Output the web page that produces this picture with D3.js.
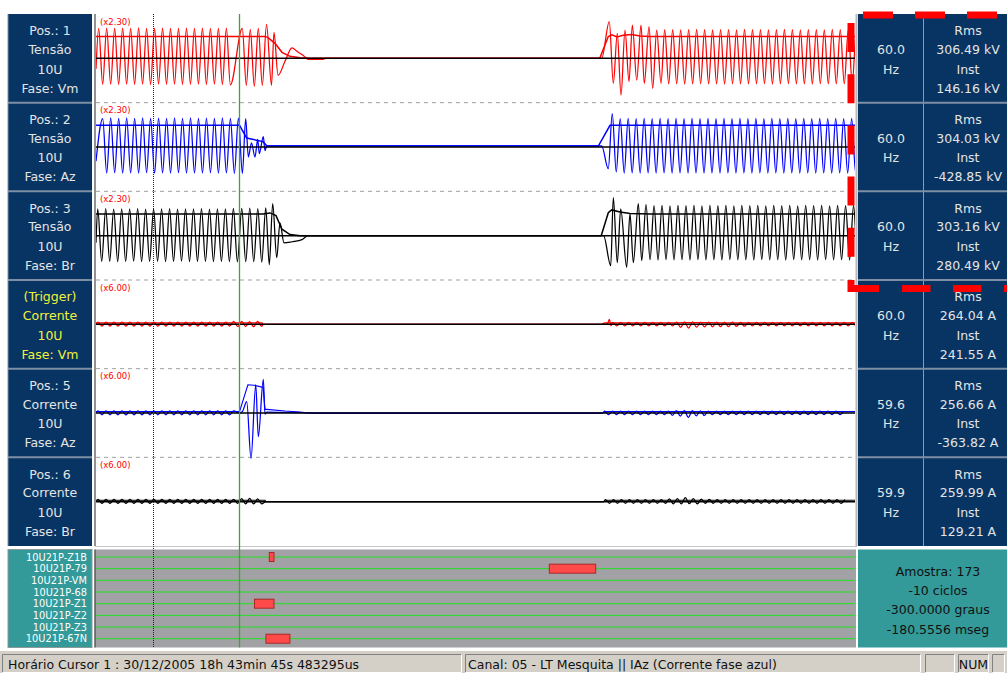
<!DOCTYPE html>
<html><head><meta charset="utf-8">
<script src="https://cdn.jsdelivr.net/npm/d3@7"></script>
<style>
html,body{margin:0;padding:0;background:#fff;}
svg{display:block;font-family:"DejaVu Sans",sans-serif;}
</style></head><body>
<svg id="c" width="1007" height="673"></svg>
<script>
// ---- channel descriptions ----
const chanPos   = ["Pos.: 1","Pos.: 2","Pos.: 3","(Trigger)","Pos.: 5","Pos.: 6"];
const chanKind  = ["Tensão","Tensão","Tensão","Corrente","Corrente","Corrente"];
const chanBay   = ["10U","10U","10U","10U","10U","10U"];
const chanPhase = ["Fase: Vm","Fase: Az","Fase: Br","Fase: Vm","Fase: Az","Fase: Br"];
const chanColor = ["#ff0000","#0000ff","#000000","#ff0000","#0000ff","#000000"];
const chanGain  = ["(x2.30)","(x2.30)","(x2.30)","(x6.00)","(x6.00)","(x6.00)"];
const chanFreq  = ["60.0","60.0","60.0","60.0","59.6","59.9"];
const chanRms   = ["306.49 kV","304.03 kV","303.16 kV","264.04 A","256.66 A","259.99 A"];
const chanInst  = ["146.16 kV","-428.85 kV","280.49 kV","241.55 A","-363.82 A","129.21 A"];

// time axis (ms) and cursors
const timeDomain = [0, 1585];
const HALF = 1000 / 120;            // half cycle at 60 Hz, ms
const cursorTimes = [119.0, 299.56];

// ---- voltage Vm (kV): alternating peaks, explicit transients ----
const vmPreStart = 5.6;
const vmPre = [420,-364,424,-362,418,-366,422,-360,420,-364,426,-362,418,-366,420,-360,424,-364,420,-362,418,-366,422,-364,420,-360,424,-366,420,-362,418,-368,424,-372];
const vmFault = [[305.5,420],[313.9,-378],[322.2,406],[330.6,-392],[338.9,420],[347.3,-378],[356.1,476],[366.5,-378],[371.7,364],[380.1,-238],[394.7,-42],[409.3,147],[419.7,98],[432.3,42],[442.7,-14],[472.0,-14],[480.3,0],[1056,0]];
const vmReclose = [[1071.9,512],[1080.3,-350],[1088.6,350],[1096.4,-514],[1104.7,396],[1113.1,-326],[1120.0,466],[1129.2,-304],[1138.1,466],[1145.0,-350],[1154.9,442],[1162.5,-420],[1170.9,396],[1179.9,-350]];
const vmPostStart = 1187.6;
const vmPost = [400,-357,402,-355,398,-360,400,-357,404,-355,400,-358,398,-357,402,-360,400,-355,398,-357,404,-358,400,-357,402,-355,398,-360,400,-357,404,-355,400,-358,398,-357,402,-360,400,-355,398,-357,404,-358,400,-357,402,-355,400,-357];
const vmRms = [[0,306.49],[352.9,306.49],[359.2,290],[373.8,210],[388.4,84],[405.1,28],[426,7],[447,0],[1052,0],[1069.8,306],[1077.5,330],[1088,300],[1100.5,322],[1118.7,334],[1136,312],[1157,306.49],[1585,306.49]];

// ---- voltage Az (kV) ----
const vaPreStart = 14.0;
const vaPre = [398,-364,406,-360,402,-366,406,-362,400,-364,408,-360,402,-366,404,-362,400,-364,406,-360,402,-366,408,-362,400,-364,404,-360,402,-366,406,-362,400,-370,404];
const vaFault = [[305.7,-371],[312.6,398],[318.1,-140],[324.7,56],[332.0,-140],[337.7,108],[341.0,-92],[349.4,144],[352.9,-49],[356.5,14],[1056,14]];
const vaReclose = [[1069.8,-304],[1078.1,468],[1086.4,-350]];
const vaPostStart = 1094.7;
const vaPost = [398,-364,400,-362,398,-364,400,-362,398,-364,400,-362,398,-364,400,-362,
                398,-364,400,-362,398,-364,400,-362,398,-364,400,-362,398,-364,400,-362,
                398,-364,400,-362,398,-364,400,-362,398,-364,400,-362,398,-364,400,-362,
                398,-364,400,-362,398,-364,400,-362,398,-364,400,-362,398,-364,400,-362];
const vaRms = [[0,304.03],[299.7,304.03],[314.7,125],[348.7,75],[357.1,14],[1049,14],[1073.4,304.03],[1585,304.03]];

// ---- voltage Br (kV) ----
const vbPreStart = 3.6;
const vbPre = [374,-360,378,-358,372,-362,376,-360,374,-356,378,-362,372,-360,376,-358,374,-362,378,-360,372,-356,376,-362,374,-360,378,-358,372,-362,376,-360,374,-364,380,-366];
const vbFault = [[304.4,380],[312.7,-364],[321.1,384],[329.4,-364],[337.8,378],[346.1,-370],[354.5,390],[361.9,-406],[369.0,448],[377.4,-308],[384.2,180],[392.6,-100],[409.3,-85],[430.2,-56],[442.7,0],[1060,0]];
const vbReclose = [[1074.9,-420],[1080.3,532],[1088.6,-378],[1095.7,374],[1108.2,-442],[1115.1,308],[1122.1,-378],[1132.5,448],[1139.6,-350],[1148.6,434]];
const vbPostStart = 1157;
const vbPost = [-336,420,-340,424,-334,418,-338,422,-336,420,-340,424,-334,418,-338,422,-336,420,-340,424,-334,418,-338,422,-336,420,-340,424,-334,418,-338,422,-336,420,-340,424,-334,418,-338,422,-336,420,-340,424,-334,418,-338,422,-336,420,-340,424,-334,418,-338];
const vbRms = [[0,303.16],[348.7,303.16],[363.4,318],[375.9,280],[388.4,90],[405.1,15],[426,0],[1055,0],[1069.8,320],[1077,360],[1094.3,330],[1115.2,310],[1157,303.16],[1585,303.16]];

// ---- current Vm (A) ----
const imPreStart = 4.2;
const imPre = [400,-320,400,-320,400,-320,400,-320,400,-320,400,-320,400,-320,400,-320,400,-320,400,-320,400,-320,400,-320,400,-320,400,-320,400,-320,400,-320,400,-320,520,-420,540,-400,500,-430,520,-380];
const imGap = [[349,0],[1056,0],[1068,60],[1071.9,900],[1075.5,-250]];
const imPostStart = 1079.2;
const imPost = [340,-300,340,-300,340,-300,340,-300,340,-300,340,-300,340,-300,340,-300,420,-560,460,-670,440,-520,400,-480,420,-450,380,-420,400,-400,380,-380,360,-340,360,-300,340,-300,340,-300,340,-300,340,-300,340,-300,340,-300,340,-300,340,-300,340,-300,340,-300,340,-300,340,-300,340,-300,340];
const imRms = [[0,264.04],[346.7,264.04],[349,0],[1056,0],[1062,264.04],[1215,264.04],[1225,340],[1285,300],[1300,264.04],[1585,264.04]];

// ---- current Az (A) ----
const iaPreStart = 4.2;
const iaPre = [400,-320,400,-320,400,-320,400,-320,400,-320,400,-320,400,-320,400,-320,400,-320,400,-320,400,-320,400,-320,400,-320,400,-320,400,-320,400,-320,400,-320,400];
const iaFault = [[299.7,0],[306,300],[314.7,2040],[323.7,-8200],[333.6,5100],[339.0,-4280],[349.4,6070],[352.9,-200],[357.1,150],[394.7,100],[430,50],[450,0],[1058,0]];
const iaPostStart = 1062;
const iaPost = [360,-300,360,-300,360,-300,360,-300,360,-300,360,-300,360,-300,360,-300,360,-420,420,-550,440,-780,420,-500,400,-450,360,-300,360,-300,360,-300,360,-300,360,-300,360,-300,360,-300,360,-300,360,-300,360,-300,360,-300,360,-300,360,-300,360,-300,360,-300,360,-300,360,-300,360];
const iaRms = [[0,256.66],[299.7,256.66],[317.2,5100],[330,5000],[340,4800],[349,4600],[352.9,650],[357.1,650],[394.7,360],[426,180],[446,0],[1058,0],[1066,256.66],[1585,256.66]];

// ---- current Br (A) ----
const ibPreStart = 4.2;
const ibPre = [400,-320,400,-320,400,-320,400,-320,400,-320,400,-320,400,-320,400,-320,400,-320,400,-320,400,-320,400,-320,400,-320,400,-320,400,-320,400,-320,400,-320,400,-320,560,-400,600,-420,520,-380];
const ibGap = [[355,0],[1060,0]];
const ibPostStart = 1064;
const ibPost = [360,-300,360,-300,360,-300,360,-300,360,-300,360,-300,360,-300,360,-300,500,-380,560,-420,720,-360,560,-420,450,-300,420,-300,360,-300,360,-300,360,-300,360,-300,360,-300,360,-300,360,-300,360,-300,360,-300,360,-300,360,-300,360,-300,360,-300,360,-300,360,-300,360,-300,360];
const ibRms = [[0,259.99],[352.9,259.99],[355,0],[1060,0],[1068,259.99],[1585,259.99]];

// ---- digital channels ----
const digNames = ["10U21P-Z1B","10U21P-79","10U21P-VM","10U21P-68","10U21P-Z1","10U21P-Z2","10U21P-Z3","10U21P-67N"];
const digEvents = [["10U21P-Z1B",361.9,371.7],["10U21P-79",946.6,1043.5],["10U21P-Z1",330.9,371.7],["10U21P-67N",354.9,405.0]];

// ---- cursor / status texts ----
const cursorInfo = ["Amostra: 173","-10 ciclos","-300.0000 graus","-180.5556 mseg"];
const statusLeft = "Horário Cursor 1 : 30/12/2005 18h 43min 45s 483295us";
const statusChannel = "Canal: 05 - LT Mesquita || IAz (Corrente fase azul)";
const statusKey = "NUM";

// ================= drawing =================
const svg = d3.select("#c");
const PT = 14, PB = 546, PH = (PB - PT) / 6;
const panelY = i => PT + i * PH;
const x = d3.scaleLinear().domain(timeDomain).range([96, 855]);
const yOf = i => d3.scaleLinear().domain(i < 3 ? [-620, 620] : [-8000, 8000]).range([panelY(i) + PH, panelY(i)]);

const alt = (t0, vals) => vals.map((v, k) => [t0 + k * HALF, v]);
const traces = [
  [[0,-150], ...alt(vmPreStart, vmPre), ...vmFault, ...vmReclose, ...alt(vmPostStart, vmPost)],
  [[0,-200], ...alt(vaPreStart, vaPre), ...vaFault, ...vaReclose, ...alt(vaPostStart, vaPost)],
  [[0,-100], ...alt(vbPreStart, vbPre), ...vbFault, ...vbReclose, ...alt(vbPostStart, vbPost)],
  [[0,0], ...alt(imPreStart, imPre), ...imGap, ...alt(imPostStart, imPost)],
  [[0,0], ...alt(iaPreStart, iaPre), ...iaFault, ...alt(iaPostStart, iaPost)],
  [[0,0], ...alt(ibPreStart, ibPre), ...ibGap, ...alt(ibPostStart, ibPost)]
];
const rmsTraces = [vmRms, vaRms, vbRms, imRms, iaRms, ibRms];

svg.append("rect").attr("width",1007).attr("height",673).attr("fill","#fff");

const defs = svg.append("defs");
defs.append("clipPath").attr("id","plotClip").append("rect")
  .attr("x",96).attr("y",PT).attr("width",759).attr("height",PB-PT);

// dashed separators between analog panels
const grid = svg.append("g");
d3.range(1,6).forEach(i => {
  grid.append("line").attr("x1",96).attr("x2",855)
    .attr("y1",panelY(i)).attr("y2",panelY(i))
    .attr("stroke","#a0a0a0").attr("stroke-width",1).attr("stroke-dasharray","4,4");
});

// traces
const plot = svg.append("g").attr("clip-path","url(#plotClip)");
traces.forEach((pts, i) => {
  const y = yOf(i);
  const ln = d3.line().x(d => x(d[0])).y(d => y(d[1])).curve(d3.curveMonotoneX);
  plot.append("path").attr("d", ln(pts)).attr("fill","none")
    .attr("stroke", chanColor[i]).attr("stroke-width",1.25);
  const lr = d3.line().x(d => x(d[0])).y(d => y(d[1]));
  plot.append("path").attr("d", lr(rmsTraces[i])).attr("fill","none")
    .attr("stroke", chanColor[i]).attr("stroke-width", i < 3 ? 1.5 : 1.1);
});
// zero lines
traces.forEach((pts, i) => {
  const y = yOf(i);
  plot.append("line").attr("x1",96).attr("x2",855)
    .attr("y1",y(0)).attr("y2",y(0)).attr("stroke","#000").attr("stroke-width",1.5);
});
// gain labels
chanGain.forEach((g, i) => {
  svg.append("text").attr("x",100).attr("y",panelY(i)+10.5).text(g)
    .attr("fill","#ff0000").attr("font-size","8.5px");
});

// plot frame lines
svg.append("line").attr("x1",95).attr("x2",95).attr("y1",PT).attr("y2",PB)
  .attr("stroke","#6e6e6e").attr("stroke-width",1.5);
svg.append("line").attr("x1",856.5).attr("x2",856.5).attr("y1",PT).attr("y2",PB)
  .attr("stroke","#b8b8b8").attr("stroke-width",2);
svg.append("line").attr("x1",95).attr("x2",857).attr("y1",PB+0.5).attr("y2",PB+0.5)
  .attr("stroke","#c8c8c8").attr("stroke-width",1);

// left channel panels
const left = svg.append("g");
left.append("rect").attr("x",8).attr("y",PT).attr("width",84).attr("height",PB-PT).attr("fill","#073463");
d3.range(1,6).forEach(i => left.append("line").attr("x1",8).attr("x2",92)
  .attr("y1",panelY(i)).attr("y2",panelY(i)).attr("stroke","#7e8fa4").attr("stroke-width",2));
left.append("line").attr("x1",8).attr("x2",8).attr("y1",PT).attr("y2",PB).attr("stroke","#8090a4").attr("stroke-width",1);
const lineOff = [16.7, 35.6, 55, 74.3];
d3.range(6).forEach(i => {
  const lines = [chanPos[i], chanKind[i], chanBay[i], chanPhase[i]];
  lines.forEach((s, k) => {
    left.append("text").attr("x",50).attr("y",panelY(i)+lineOff[k]).attr("dy","0.36em")
      .attr("text-anchor","middle").attr("font-size","12.5px")
      .attr("fill", i === 3 ? "#f2f23a" : "#e4e4e4").text(s);
  });
});

// right value panels
const right = svg.append("g");
right.append("rect").attr("x",858).attr("y",PT).attr("width",149).attr("height",PB-PT).attr("fill","#073463");
right.append("line").attr("x1",923.5).attr("x2",923.5).attr("y1",PT).attr("y2",PB).attr("stroke","#8a9ab0").attr("stroke-width",1);
d3.range(1,6).forEach(i => right.append("line").attr("x1",858).attr("x2",1007)
  .attr("y1",panelY(i)).attr("y2",panelY(i)).attr("stroke","#7e8fa4").attr("stroke-width",2));
d3.range(6).forEach(i => {
  [chanFreq[i], "Hz"].forEach((s, k) => {
    right.append("text").attr("x",891).attr("y",panelY(i)+lineOff[k+1]).attr("dy","0.36em")
      .attr("text-anchor","middle").attr("font-size","12.5px").attr("fill","#e4e4e4").text(s);
  });
  ["Rms", chanRms[i], "Inst", chanInst[i]].forEach((s, k) => {
    right.append("text").attr("x",968).attr("y",panelY(i)+lineOff[k]).attr("dy","0.36em")
      .attr("text-anchor","middle").attr("font-size","12.5px").attr("fill","#e4e4e4").text(s);
  });
});

// digital channel area
const DT = 549.5, DB = 647.5;
const dig = svg.append("g");
dig.append("rect").attr("x",8).attr("y",DT).attr("width",84).attr("height",DB-DT).attr("fill","#339999").attr("stroke","#8a9a9a");
dig.append("rect").attr("x",95).attr("y",DT).attr("width",761).attr("height",DB-DT).attr("fill","#a2a2a6");
dig.append("line").attr("x1",95).attr("x2",95).attr("y1",DT).attr("y2",DB).attr("stroke","#5a5a5a").attr("stroke-width",1.5);
dig.append("rect").attr("x",858).attr("y",DT).attr("width",149).attr("height",DB-DT).attr("fill","#339999");
const yd = d3.scalePoint().domain(digNames).range([557, 638.7]);
digNames.forEach(n => {
  dig.append("line").attr("x1",96).attr("x2",855).attr("y1",yd(n)).attr("y2",yd(n))
    .attr("stroke","#22e022").attr("stroke-width",1);
  dig.append("text").attr("x",87).attr("y",yd(n)).attr("dy","0.36em").attr("text-anchor","end")
    .attr("font-size","9.8px").attr("fill","#ffffff").text(n);
});
digEvents.forEach(e => {
  dig.append("rect").attr("x",x(e[1])).attr("y",yd(e[0])-4.5)
    .attr("width",x(e[2])-x(e[1])).attr("height",9)
    .attr("fill","#ff4a4a").attr("stroke","#a82828").attr("stroke-width",1);
});
cursorInfo.forEach((s, k) => {
  dig.append("text").attr("x",938).attr("y",571.7 + k*19.1).attr("dy","0.36em")
    .attr("text-anchor","middle").attr("font-size","12.5px").attr("fill","#111").text(s);
});

// cursors
const cx1 = Math.round(x(cursorTimes[0])) + 0.5, cx2 = Math.round(x(cursorTimes[1])) + 0.5;
svg.append("line").attr("x1",cx1).attr("x2",cx1)
  .attr("y1",PT).attr("y2",DB).attr("stroke","#222").attr("stroke-width",1).attr("stroke-dasharray","1,1");
svg.append("line").attr("x1",cx2).attr("x2",cx2)
  .attr("y1",PT).attr("y2",DB).attr("stroke","#35a835").attr("stroke-width",1.3);

// selection highlight around the voltage value panels
const hl = svg.append("g").attr("fill","none").attr("stroke","#ff0000").attr("stroke-width",7);
hl.append("line").attr("x1",863).attr("x2",1012).attr("y1",15).attr("y2",15).attr("stroke-dasharray","30,22");
hl.append("line").attr("x1",851).attr("x2",851).attr("y1",23).attr("y2",258).attr("stroke-dasharray","29,22.2");
hl.append("path").attr("d","M851,280V288.5H879");
hl.append("line").attr("x1",902).attr("x2",1012).attr("y1",288.5).attr("y2",288.5).attr("stroke-dasharray","28.5,22.5");

// status bar
const sb = svg.append("g");
sb.append("rect").attr("x",0).attr("y",651).attr("width",1007).attr("height",22).attr("fill","#d4d0c8");
const boxes = [[2,462],[465,921],[925,955],[958,989],[992,1005]];
boxes.forEach(b => {
  sb.append("path").attr("d",`M${b[0]+0.5},672V654.5H${b[1]-0.5}`).attr("fill","none").attr("stroke","#808080");
  sb.append("path").attr("d",`M${b[0]+0.5},672.5H${b[1]-0.5}V654.5`).attr("fill","none").attr("stroke","#ffffff");
});
sb.append("text").attr("x",8).attr("y",664.5).attr("dy","0.36em").attr("font-size","12.5px").attr("fill","#111").text(statusLeft);
sb.append("text").attr("x",468).attr("y",664.5).attr("dy","0.36em").attr("font-size","12.5px").attr("fill","#111").text(statusChannel);
sb.append("text").attr("x",973.5).attr("y",664.5).attr("dy","0.36em").attr("text-anchor","middle").attr("font-size","12.5px").attr("fill","#111").text(statusKey);
</script>
</body></html>
